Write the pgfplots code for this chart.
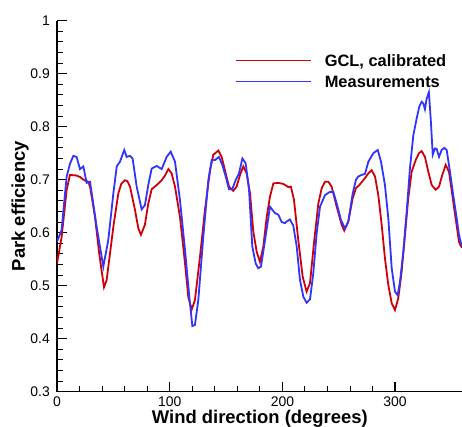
\documentclass[border=0pt]{standalone}
\usepackage{fontspec}
\setmainfont{Liberation Sans}
\usepackage{pgfplots}
\pgfplotsset{compat=1.18}
\definecolor{gclred}{RGB}{208,0,8}
\definecolor{measblue}{RGB}{51,51,255}
\begin{document}
\begin{tikzpicture}
\begin{axis}[
  name=ax,
  scale only axis,
  width=405.7bp, height=371bp,
  xmin=0, xmax=360, ymin=0.3, ymax=1,
  axis x line=bottom, axis y line=left,
  axis line style={-, line width=1.5bp, black},
  xtick={0,100,200,300}, minor x tick num=4,
  ytick={0.3,0.4,0.5,0.6,0.7,0.8,0.9,1}, minor y tick num=4,
  tick align=inside,
  major tick length=10bp, minor tick length=6bp,
  major tick style={line width=1.2bp, black},
  minor tick style={line width=1bp, black},
  /pgf/number format/assume math mode=true,
  ticklabel style={font=\fontsize{14}{16}\selectfont, inner sep=0pt},
  yticklabel style={xshift=-7bp},
  xticklabel style={yshift=-4.5bp},
  xlabel={\bfseries Wind direction (degrees)},
  ylabel={\bfseries Park efficiency},
  xlabel style={font=\fontsize{18.5}{20}\selectfont, at={(rel axis cs:0.5,0)}, anchor=base, yshift=-31.6bp, inner sep=0pt},
  ylabel style={font=\fontsize{18.5}{20}\selectfont, at={(rel axis cs:0,0.5)}, anchor=base, yshift=32bp, inner sep=0pt},
  legend image code/.code={\draw[#1] (0bp,0bp) -- (75bp,0bp); \path (88bp,0bp);},
  legend style={at={(rel axis cs:0.4387,0.9084)}, anchor=north west, draw=none, fill=none,
    inner sep=0pt, outer sep=0pt, row sep=9.2bp,
    font=\bfseries\fontsize{16.5}{18}\selectfont,
    nodes={inner sep=0pt, text height=11.8bp, text depth=0pt}},
  legend cell align=left,
]
\addplot[color=gclred, line width=1.8bp] coordinates {
(0,0.542) (4.1,0.592) (8.6,0.681) (11.5,0.709) (17,0.708) (20.5,0.705) (23.4,0.70) (27.8,0.696) (29.5,0.685)
(33.7,0.63) (37.5,0.56) (41.7,0.497) (44,0.51) (47,0.56) (50,0.611) (54.4,0.674) (57,0.692) (60.3,0.699)
(62.5,0.697) (64.8,0.687) (69.2,0.643) (72.2,0.608) (74.5,0.596) (78,0.615) (81,0.655) (84,0.682) (88.5,0.69)
(92.9,0.699) (95.9,0.708) (98.8,0.72) (101.7,0.712) (104.7,0.687) (109.1,0.63) (113.6,0.542) (116.5,0.479)
(119.5,0.455) (122.4,0.473) (126.9,0.555) (131.3,0.643) (135.8,0.718) (138.7,0.747) (143.2,0.755) (146.1,0.743)
(149.7,0.712) (152.6,0.687) (156.4,0.679) (159.4,0.687) (162.4,0.709) (165.3,0.725) (168.3,0.712) (171.3,0.674)
(174.2,0.602) (177.2,0.564) (180.1,0.545) (183.1,0.574) (186.1,0.63) (189,0.668) (192,0.693) (196.4,0.694)
(200.8,0.692) (202.3,0.69) (205.2,0.686) (207.5,0.687) (210.3,0.662) (214.1,0.586) (218,0.517) (221.5,0.489)
(224.5,0.505) (228,0.58) (231.9,0.655) (234.9,0.684) (237.8,0.696) (240.8,0.696) (243.7,0.687) (248.2,0.649)
(252.6,0.615) (254.9,0.604) (258.5,0.621) (262.4,0.665) (265.3,0.684) (268.3,0.69) (273.3,0.703) (276.3,0.712)
(279.2,0.718) (282.2,0.706) (285.1,0.671) (288.1,0.615) (291,0.552) (294,0.501) (297,0.467) (299.9,0.454)
(302.8,0.476) (305.8,0.526) (308.8,0.596) (311.7,0.665) (314.7,0.715) (318.3,0.737) (321.2,0.75) (323.6,0.754)
(326.5,0.743) (329.5,0.715) (332.5,0.69) (336,0.681) (339,0.687) (341.9,0.709) (344.9,0.728) (347.8,0.715)
(350.8,0.671) (353.7,0.627) (356.7,0.583) (358.5,0.574) (359.5,0.572)
};
\addlegendentry{GCL, calibrated}
\addplot[color=measblue, line width=1.8bp] coordinates {
(0,0.583) (4.1,0.605) (6.5,0.66) (8.6,0.706) (11.5,0.73) (14.5,0.745) (17.4,0.743) (20.4,0.72) (23.4,0.725)
(26.3,0.694) (29.3,0.696) (35.2,0.611) (41.1,0.536) (45.5,0.586) (50,0.674) (53,0.725) (55.9,0.734) (59.7,0.756)
(61.8,0.743) (64.8,0.745) (67.1,0.74) (70.7,0.687) (75.1,0.644) (78,0.652) (81,0.69) (84,0.721) (88.5,0.726)
(92.9,0.72) (97.3,0.743) (100.9,0.753) (104.7,0.734) (109.1,0.662) (113.6,0.567) (117.4,0.479) (120.1,0.424)
(122.4,0.426) (125.4,0.473) (129.8,0.592) (134.3,0.699) (137.3,0.737) (140.2,0.737) (143.7,0.743) (146.7,0.728)
(149.7,0.706) (152.6,0.682) (155.5,0.682) (158.5,0.699) (161.5,0.712) (164.5,0.74) (167.4,0.731) (170.4,0.681)
(173.3,0.574) (176.3,0.542) (178.6,0.533) (181,0.536) (184.6,0.586) (189,0.649) (193.4,0.637) (196.4,0.634)
(199.4,0.62) (202.3,0.618) (203.8,0.621) (206.7,0.625) (209.7,0.613) (212.7,0.574) (215.6,0.511) (218.6,0.479)
(221.5,0.468) (224.5,0.474) (227.4,0.523) (230.4,0.599) (233.4,0.649) (237.8,0.671) (242.2,0.677) (245.2,0.677)
(248.2,0.655) (252,0.624) (255.5,0.608) (258.5,0.621) (262.4,0.674) (265.3,0.70) (267.4,0.706) (270.3,0.709)
(273.3,0.711) (276.3,0.734) (280.7,0.75) (284.6,0.756) (287.5,0.734) (291,0.69) (294,0.627) (297,0.533)
(299.9,0.489) (302.3,0.482) (304.4,0.508) (307.3,0.564) (310.3,0.64) (313.2,0.722) (316.2,0.784) (319.2,0.816)
(321.5,0.838) (323.6,0.847) (325,0.844) (326.5,0.833) (328,0.853) (330,0.865) (331.8,0.809) (333.4,0.747)
(335.4,0.759) (336.9,0.758) (339,0.743) (341.3,0.756) (343.7,0.76) (345.8,0.756) (348.7,0.715) (351.6,0.671)
(354.7,0.627) (356.7,0.596) (358.5,0.58) (359.5,0.575)
};
\addlegendentry{Measurements}
\end{axis}
\pgfresetboundingbox
\path[use as bounding box] ([shift={(-57bp,-35.3bp)}]ax.south west) rectangle ++(462bp,427bp);
\end{tikzpicture}
\end{document}
